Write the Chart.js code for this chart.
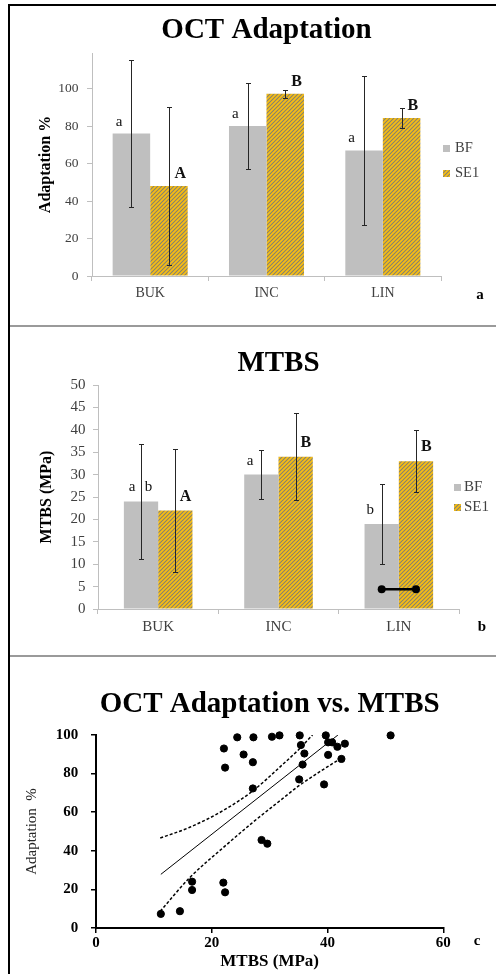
<!DOCTYPE html>
<html><head><meta charset="utf-8">
<script src="https://cdn.jsdelivr.net/npm/chart.js@4.4.0/dist/chart.umd.min.js"></script>
<style>
html,body{margin:0;padding:0;background:#fff;}
#fig{position:relative;width:496px;height:974px;overflow:hidden;background:#fff;}
.panel{position:absolute;left:0;width:496px;}
.rule{position:absolute;}
</style></head><body>
<div id="fig">
 <div class="panel" style="top:0;height:325px"><canvas id="c1"></canvas></div>
 <div class="panel" style="top:327px;height:328px"><canvas id="c2"></canvas></div>
 <div class="panel" style="top:657px;height:317px"><canvas id="c3"></canvas></div>
 <div class="rule" style="left:8px;top:4px;width:488px;height:2px;background:#000"></div>
 <div class="rule" style="left:8px;top:4px;width:2px;height:970px;background:#000"></div>
 <div class="rule" style="left:10px;top:325px;width:486px;height:2px;background:#9a9a9a"></div>
 <div class="rule" style="left:10px;top:655px;width:486px;height:2px;background:#9a9a9a"></div>
</div>
<script>
// ---------- DATA ----------
const categories = ['BUK', 'INC', 'LIN'];
const seriesNames = ['BF', 'SE1'];

// Panel a: OCT Adaptation (%)
const adaptBF = [76, 80, 67];
const adaptSE1 = [48, 97.2, 84.3];
const adaptErrBF = [39, 23, 39.7];
const adaptErrSE1 = [42.3, 2.3, 5.5];
const adaptSigBF = ['a', 'a', 'a'];
const adaptSigSE1 = ['A', 'B', 'B'];

// Panel b: MTBS (MPa)
const mtbsBF = [24, 30, 19];
const mtbsSE1 = [22, 34, 33];
const mtbsErrBF = [12.75, 5.5, 8.9];
const mtbsErrSE1 = [13.7, 9.7, 6.9];
const mtbsSigBF = ['a b', 'a', 'b'];
const mtbsSigSE1 = ['A', 'B', 'B'];
const mtbsLinkCategory = 'LIN';
const mtbsLinkValue = 4.4;

// Panel c: OCT Adaptation vs. MTBS
const scatterMTBS  = [11.2, 14.5, 16.6, 16.6, 22.0, 22.3, 22.1, 22.3, 24.4, 25.5, 27.2, 27.1, 27.1, 28.6, 29.6, 30.4, 31.7, 35.2, 35.4, 36.0, 35.7, 35.1, 39.7, 40.1, 40.8, 40.1, 39.4, 41.7, 43.0, 42.4, 50.9];
const scatterAdapt = [7.3, 8.7, 24.0, 19.7, 23.5, 18.5, 93.0, 83.1, 98.8, 89.9, 98.8, 85.9, 72.3, 45.6, 43.7, 99.1, 99.8, 99.8, 94.8, 90.4, 84.7, 77.0, 99.8, 96.2, 96.2, 89.7, 74.4, 93.9, 95.5, 87.6, 99.8];
const fitX = [11.2, 41.8];
const fitY = [27.8, 100];
const ciUpperX = [11.1, 16.2, 22.0, 27.2, 31.8, 35.2, 37.4];
const ciUpperY = [46.6, 52.2, 60.9, 71.3, 83.5, 93.0, 100];
const ciLowerX = [11.1, 16.2, 22.0, 27.2, 31.8, 35.2, 42.7];
const ciLowerY = [8.7, 26.1, 41.7, 55.0, 66.0, 74.0, 88.7];

// ---------- STYLE HELPERS ----------
const SERIF = "'Liberation Serif', 'Times New Roman', serif";
Chart.defaults.color = '#404040';
Chart.defaults.font.family = SERIF;

function makeHatch(canvas) {
  const s = 4;
  const t = document.createElement('canvas'); t.width = s; t.height = s;
  const g = t.getContext('2d');
  g.fillStyle = '#f7bd12'; g.fillRect(0, 0, s, s);
  g.strokeStyle = '#84806f'; g.lineWidth = 1.05;
  g.beginPath();
  g.moveTo(0, s); g.lineTo(s, 0);
  g.moveTo(-1, 1); g.lineTo(1, -1);
  g.moveTo(s - 1, s + 1); g.lineTo(s + 1, s - 1);
  g.stroke();
  return canvas.getContext('2d').createPattern(t, 'repeat');
}

function errorBars(errors, cap) {
  return { id: 'errorBars', afterDatasetsDraw(chart) {
    const ctx = chart.ctx, y = chart.scales.y;
    ctx.save(); ctx.strokeStyle = '#262626'; ctx.lineWidth = 1;
    chart.data.datasets.forEach((ds, i) => {
      chart.getDatasetMeta(i).data.forEach((bar, j) => {
        const v = ds.data[j], e = errors[i][j];
        const yt = Math.round(y.getPixelForValue(v + e)) + 0.5;
        const yb = Math.round(y.getPixelForValue(Math.max(v - e, y.min))) + 0.5;
        const x = Math.round(bar.x) + 0.5;
        ctx.beginPath();
        ctx.moveTo(x, yt); ctx.lineTo(x, yb);
        ctx.moveTo(x - cap, yt); ctx.lineTo(x + cap, yt);
        ctx.moveTo(x - cap, yb); ctx.lineTo(x + cap, yb);
        ctx.stroke();
      });
    });
    ctx.restore();
  }};
}

function sigLetters(letters, rise) {
  return { id: 'sigLetters', afterDatasetsDraw(chart) {
    const ctx = chart.ctx;
    ctx.save(); ctx.textAlign = 'center'; ctx.textBaseline = 'middle'; ctx.fillStyle = '#111';
    chart.data.datasets.forEach((ds, i) => {
      chart.getDatasetMeta(i).data.forEach((bar, j) => {
        const txt = letters[i][j];
        const upper = txt === txt.toUpperCase();
        ctx.font = upper ? 'bold 16px ' + SERIF : '15px ' + SERIF;
        const w = bar.width, yc = bar.y - rise;
        const parts = txt.split(' ');
        if (parts.length === 2) {
          ctx.fillText(parts[0], bar.x - 0.26 * w, yc);
          ctx.fillText(parts[1], bar.x + 0.22 * w, yc);
        } else {
          ctx.fillText(txt, bar.x + (upper ? 0.3 : -0.33) * w, yc);
        }
      });
    });
    ctx.restore();
  }};
}

function boxLegend(x, y, dy, box, textX, size) {
  return { id: 'boxLegend', afterDraw(chart) {
    const ctx = chart.ctx;
    ctx.save(); ctx.textAlign = 'left'; ctx.textBaseline = 'middle';
    ctx.font = size + 'px ' + SERIF;
    chart.data.datasets.forEach((ds, i) => {
      const yc = y + i * dy;
      ctx.fillStyle = ds.backgroundColor;
      ctx.fillRect(x, Math.round(yc - box / 2), box, box);
      ctx.fillStyle = '#404040';
      ctx.fillText(ds.label, textX, yc);
    });
    ctx.restore();
  }};
}

function panelTag(letter, x, y) {
  return { id: 'panelTag', afterDraw(chart) {
    const ctx = chart.ctx;
    ctx.save(); ctx.font = 'bold 15px ' + SERIF; ctx.fillStyle = '#000';
    ctx.textAlign = 'center'; ctx.textBaseline = 'middle';
    ctx.fillText(letter, x, y); ctx.restore();
  }};
}

function linkBars(category, value) {
  return { id: 'linkBars', afterDatasetsDraw(chart) {
    const idx = chart.data.labels.indexOf(category);
    const a = chart.getDatasetMeta(0).data[idx], b = chart.getDatasetMeta(1).data[idx];
    const y = chart.scales.y.getPixelForValue(value);
    const ctx = chart.ctx;
    ctx.save(); ctx.strokeStyle = '#000'; ctx.fillStyle = '#000'; ctx.lineWidth = 2.5;
    ctx.beginPath(); ctx.moveTo(a.x, y); ctx.lineTo(b.x, y); ctx.stroke();
    [a.x, b.x].forEach(px => { ctx.beginPath(); ctx.arc(px, y, 4, 0, Math.PI * 2); ctx.fill(); });
    ctx.restore();
  }};
}

function barChart(id, cfg) {
  const canvas = document.getElementById(id);
  const hatch = makeHatch(canvas);
  return new Chart(canvas, {
    type: 'bar',
    data: { labels: categories, datasets: [
      { label: seriesNames[0], data: cfg.bf, backgroundColor: '#bfbfbf', borderWidth: 0, categoryPercentage: cfg.catPct, barPercentage: 1 },
      { label: seriesNames[1], data: cfg.se1, backgroundColor: hatch, borderWidth: 0, categoryPercentage: cfg.catPct, barPercentage: 1 }
    ]},
    options: {
      animation: false, responsive: true, maintainAspectRatio: false,
      layout: { padding: cfg.padding },
      plugins: {
        legend: { display: false }, tooltip: { enabled: false },
        title: { display: true, text: cfg.title, fullSize: false, color: '#000',
          font: { family: SERIF, size: 29, weight: 'bold' }, padding: cfg.titlePad }
      },
      scales: {
        x: {
          grid: { display: true, drawOnChartArea: false, drawTicks: true, tickLength: 5, color: '#bfbfbf', offset: true },
          border: { color: '#bfbfbf' },
          ticks: { font: { family: SERIF, size: cfg.xFont }, color: '#404040', padding: cfg.xPad },
          afterFit(s) { s.height = 30; }
        },
        y: {
          min: 0, max: cfg.yMax,
          grid: { drawOnChartArea: false, drawTicks: true, tickLength: 5, color: '#bfbfbf' },
          border: { color: '#bfbfbf' },
          ticks: { stepSize: cfg.yStep, includeBounds: false, font: { family: SERIF, size: cfg.yFont }, color: '#404040', padding: cfg.yPad,
            callback: v => (v <= cfg.yLabelMax ? v : '') },
          title: { display: true, text: cfg.yTitle, color: '#000', font: { family: SERIF, size: 16, weight: 'bold' }, padding: { top: cfg.yTitleX, bottom: 0 } },
          afterFit(s) { s.width = cfg.yWidth; }
        }
      }
    },
    plugins: cfg.plugins
  });
}

// ---------- PANEL a ----------
barChart('c1', {
  bf: adaptBF, se1: adaptSE1, catPct: 0.645, title: 'OCT Adaptation',
  padding: { left: 0, right: 55, top: 0, bottom: 19 }, titlePad: { top: 13.5, bottom: 4.7 },
  xFont: 14, xPad: 4, yFont: 13.5, yPad: 8.5, yMax: 119, yStep: 20, yLabelMax: 100,
  yTitle: 'Adaptation %', yTitleX: 36, yWidth: 92,
  plugins: [errorBars([adaptErrBF, adaptErrSE1], 2.5), sigLetters([adaptSigBF, adaptSigSE1], 12),
            boxLegend(443, 148, 25, 7, 455, 14.5), panelTag('a', 480, 295)]
});

// ---------- PANEL b ----------
barChart('c2', {
  bf: mtbsBF, se1: mtbsSE1, catPct: 0.57, title: 'MTBS',
  padding: { left: 0, right: 37, top: 0, bottom: 16 }, titlePad: { top: 19.4, bottom: 3.8 },
  xFont: 15, xPad: 4.3, yFont: 15, yPad: 7.5, yMax: 50, yStep: 5, yLabelMax: 50,
  yTitle: 'MTBS (MPa)', yTitleX: 37, yWidth: 98,
  plugins: [errorBars([mtbsErrBF, mtbsErrSE1], 2.5), sigLetters([mtbsSigBF, mtbsSigSE1], 14),
            linkBars(mtbsLinkCategory, mtbsLinkValue),
            boxLegend(454, 160.5, 20, 7, 464, 15), panelTag('b', 482, 299.7)]
});

// ---------- PANEL c ----------
const toXY = (xs, ys) => xs.map((x, i) => ({ x: x, y: ys[i] }));
new Chart(document.getElementById('c3'), {
  type: 'scatter',
  data: { datasets: [
    { label: 'Specimens', data: toXY(scatterMTBS, scatterAdapt), backgroundColor: '#000', borderColor: '#000', pointRadius: 3.6, clip: false },
    { type: 'line', label: 'Linear fit', data: toXY(fitX, fitY), borderColor: '#000', borderWidth: 1, pointRadius: 0, fill: false },
    { type: 'line', label: 'Upper 95% CI', data: toXY(ciUpperX, ciUpperY), borderColor: '#000', borderWidth: 1.5, borderDash: [3, 2], pointRadius: 0, fill: false, cubicInterpolationMode: 'monotone' },
    { type: 'line', label: 'Lower 95% CI', data: toXY(ciLowerX, ciLowerY), borderColor: '#000', borderWidth: 1.5, borderDash: [3, 2], pointRadius: 0, fill: false, cubicInterpolationMode: 'monotone' }
  ]},
  options: {
    animation: false, responsive: true, maintainAspectRatio: false,
    layout: { padding: { left: 0, right: 52.7, top: 0, bottom: 2 } },
    plugins: {
      legend: { display: false }, tooltip: { enabled: false },
      title: { display: true, text: 'OCT Adaptation vs. MTBS', fullSize: false, color: '#000',
        font: { family: SERIF, size: 29, weight: 'bold' }, padding: { top: 30.3, bottom: 12.9 } }
    },
    scales: {
      x: {
        type: 'linear', min: 0, max: 60,
        grid: { drawOnChartArea: false, drawTicks: true, tickLength: 5, color: '#000', lineWidth: 1.5 },
        border: { color: '#000', width: 2 },
        ticks: { stepSize: 20, font: { family: SERIF, size: 15, weight: 'bold' }, color: '#000', padding: 1 },
        title: { display: true, text: 'MTBS (MPa)', color: '#000', font: { family: SERIF, size: 17, weight: 'bold' }, padding: { top: 0, bottom: 0 } },
        afterFit(s) { s.height = 44; }
      },
      y: {
        min: 0, max: 100,
        grid: { drawOnChartArea: false, drawTicks: true, tickLength: 5, color: '#000', lineWidth: 1.5 },
        border: { color: '#000', width: 2 },
        ticks: { stepSize: 20, font: { family: SERIF, size: 15, weight: 'bold' }, color: '#000', padding: 12.7 },
        title: { display: true, text: 'Adaptation  %', color: '#262626', font: { family: SERIF, size: 15 }, padding: { top: 23.5, bottom: 0 } },
        afterFit(s) { s.width = 96; }
      }
    }
  },
  plugins: [panelTag('c', 477, 284)]
});
</script>
</body></html>
